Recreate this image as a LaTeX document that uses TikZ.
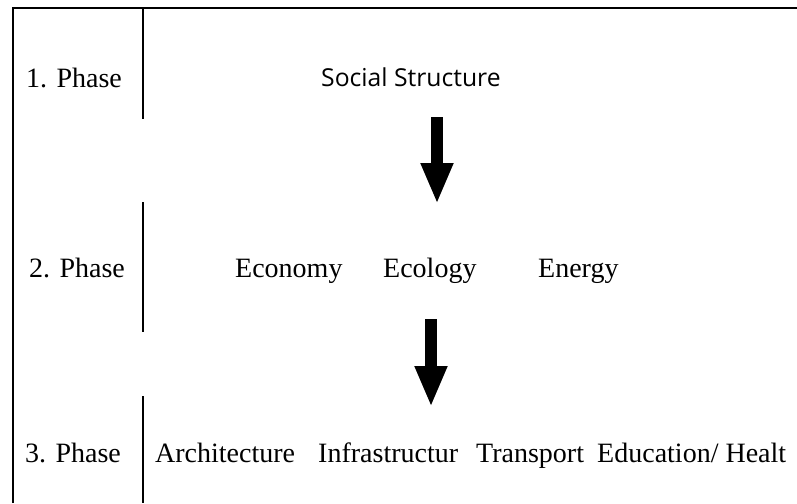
\documentclass[tikz,border=0pt]{standalone}
\usepackage{fontspec}
\setmainfont{Liberation Serif}
\newfontfamily\headfont{Open Sans}
\usetikzlibrary{arrows.meta}

\begin{document}
\begin{tikzpicture}[x=1pt, y=-1pt,
  every node/.style={inner sep=0pt, anchor=base west, font=\fontsize{28}{30}\selectfont},
  frameline/.style={line width=2pt, black},
  bigarrow/.style={line width=12pt, -{Triangle[length=41pt, width=30pt]}}]
\useasboundingbox (0,0) rectangle (797,503);

\def\xSep{143}

% frame and the column divider
\draw[frameline] (13,503) -- (13,8) -- (797,8);
\draw[frameline] (\xSep,8) -- (\xSep,119);
\draw[frameline] (\xSep,202) -- (\xSep,332);
\draw[frameline] (\xSep,396) -- (\xSep,503);

% phase labels
\node (phase1) at (26,87) {1. Phase};
\node (phase2) at (29,277) {2. Phase};
\node (phase3) at (25,462) {3. Phase};

% first row
\node[font=\headfont\fontsize{24.7}{28}\selectfont] (social) at (321,86) {Social Structure};

% second row
\node (economy) at (235,277) {Economy};
\node (ecology) at (383,277) {Ecology};
\node (energy) at (538,277) {Energy};

% third row
\node (architecture) at (155,462) {Architecture};
\node (infra) at (318,462) {Infrastructur};
\node (transport) at (476,462) {Transport};
\node (education) at (597,462) {Education/ Healt};

% arrows between the phases
\coordinate (arrA) at (437,117);
\coordinate (arrAend) at (437,204);
\coordinate (arrB) at (431,319);
\coordinate (arrBend) at (431,407);
\draw[bigarrow] (arrA) -- (arrAend);
\draw[bigarrow] (arrB) -- (arrBend);
\end{tikzpicture}
\end{document}
